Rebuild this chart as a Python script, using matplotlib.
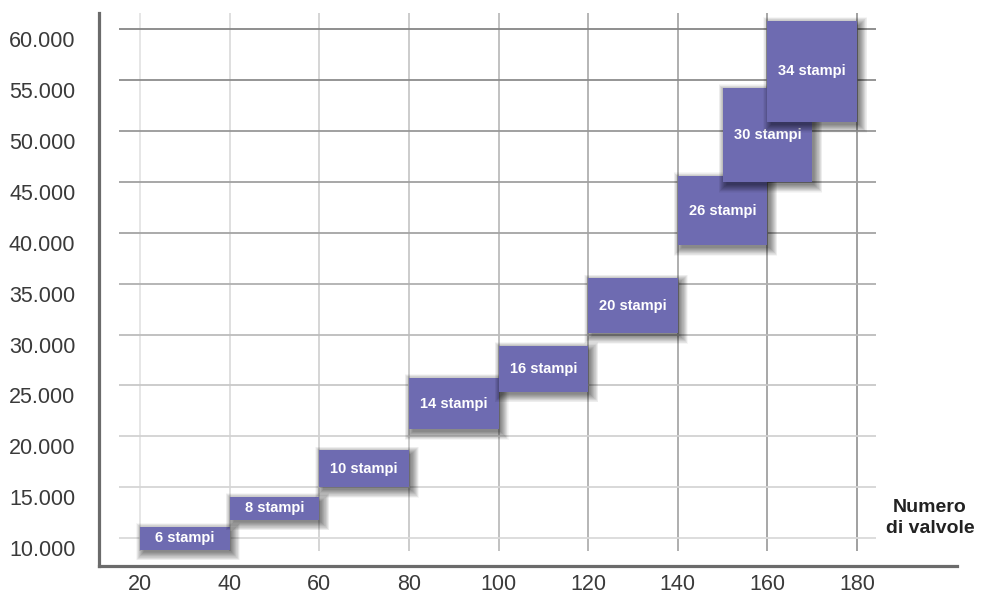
import matplotlib
matplotlib.use("Agg")
import matplotlib.pyplot as plt
from matplotlib.patches import Rectangle
from matplotlib.transforms import ScaledTranslation

# ---------------- data ----------------
box_labels = ["6 stampi", "8 stampi", "10 stampi", "14 stampi", "16 stampi",
              "20 stampi", "26 stampi", "30 stampi", "34 stampi"]
valve_from = [20, 40, 60, 80, 100, 120, 140, 150, 160]
valve_to = [40, 60, 80, 100, 120, 140, 160, 170, 180]
qty_low = [8850, 11800, 15000, 20700, 24400, 30150, 38800, 45000, 50900]
qty_high = [11100, 14050, 18650, 25750, 28900, 35550, 45600, 54250, 60850]

x_ticks = [20, 40, 60, 80, 100, 120, 140, 160, 180]
x_tick_labels = ["20", "40", "60", "80", "100", "120", "140", "160", "180"]
y_ticks = [10000, 15000, 20000, 25000, 30000, 35000, 40000, 45000, 50000, 55000, 60000]
y_tick_labels = ["10.000", "15.000", "20.000", "25.000", "30.000", "35.000",
                 "40.000", "45.000", "50.000", "55.000", "60.000"]
axis_title = "Numero\ndi valvole"

# gridline colours (lighter at bottom-left, darker towards top-right)
vgrid_colors = ["#e4e4e4", "#dcdcdc", "#d2d2d2", "#c8c8c8", "#bcbcbc",
                "#b0b0b0", "#a8a8a8", "#a0a0a0", "#999999"]
hgrid_colors = ["#dadada", "#d6d6d6", "#d2d2d2", "#c8c8c8", "#bcbcbc",
                "#b0b0b0", "#a4a4a4", "#a0a0a0", "#989898", "#8c8c8c", "#868686"]

box_color = "#6e6bb1"
font = "Liberation Sans"

# ---------------- figure ----------------
W, H = 982, 600
fig = plt.figure(figsize=(W / 100, H / 100), dpi=100)
ax = fig.add_axes([99 / W, 34 / H, (957 - 99) / W, (566 - 13) / H])
ax.set_xlim(10.85, 202.3)
ax.set_ylim(7247, 61622)

# gridlines
for xv, c in zip(x_ticks, vgrid_colors):
    ax.vlines(xv, 8722, 61622, colors=c, lw=1.3, zorder=1)
for yv, c in zip(y_ticks, hgrid_colors):
    ax.hlines(yv, 15.3, 184.2, colors=c, lw=1.3, zorder=1.1)

# spines
for s in ["top", "right"]:
    ax.spines[s].set_visible(False)
for s in ["left", "bottom"]:
    ax.spines[s].set_color("#6b6b6b")
    ax.spines[s].set_linewidth(2.3)
    ax.spines[s].set_zorder(20)

# ticks
ax.set_xticks(x_ticks)
ax.set_xticklabels(x_tick_labels, fontsize=15.5, color="#3a3a3a", family=font)
ax.set_yticks(y_ticks)
ax.set_yticklabels(y_tick_labels, fontsize=15.5, color="#3a3a3a", family=font)
ax.tick_params(axis="both", length=0)
ax.tick_params(axis="y", pad=17)
ax.tick_params(axis="x", pad=6)
off = ScaledTranslation(0, -0.10, fig.dpi_scale_trans)
for lab in ax.get_yticklabels():
    lab.set_transform(lab.get_transform() + off)

# boxes with soft shadows
dxu = 160 / 717.0      # data units per pixel (x)
dyu = 50000 / 508.5    # data units per pixel (y)
n_layers = 16
for i, (lab, x0, x1, y0, y1) in enumerate(zip(box_labels, valve_from, valve_to, qty_low, qty_high)):
    z = 3 + i
    for k in range(n_layers):
        e = 8.5 * (1 - k / n_layers) - 1.5
        ox, oy = 3.0, -3.5
        ax.add_patch(Rectangle((x0 + (ox - e) * dxu, y0 + (oy - e) * dyu),
                               (x1 - x0) + 2 * e * dxu, (y1 - y0) + 2 * e * dyu,
                               facecolor="#000000", edgecolor="none",
                               alpha=0.036, zorder=z - 0.5))
    ax.add_patch(Rectangle((x0, y0), x1 - x0, y1 - y0, facecolor=box_color,
                           edgecolor="none", zorder=z))
    ax.text((x0 + x1) / 2, (y0 + y1) / 2, lab, ha="center", va="center",
            color="white", fontsize=10.5, fontweight="bold", family=font,
            zorder=z + 0.1)

# axis title at right
fig.text(930 / W, 1 - 518 / H, axis_title, ha="center", va="center",
         fontsize=14, fontweight="bold", color="#222222", family=font,
         linespacing=1.3)

fig.savefig("out.png", dpi=100, facecolor="white")
